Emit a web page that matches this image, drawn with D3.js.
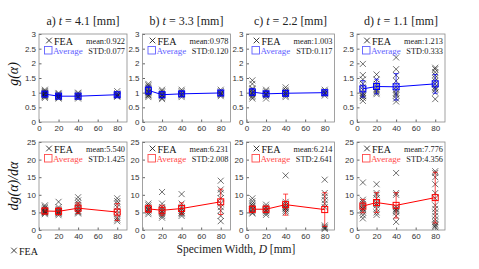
<!DOCTYPE html>
<html>
<head>
<meta charset="utf-8">
<script src="https://cdn.jsdelivr.net/npm/d3@7"></script>
<style>
  body { margin: 0; background: #fff; }
  svg { display: block; font-family: 'Liberation Serif', serif; }
  .tick text { fill: #333; font-size: 8px; }
  .tick line { stroke: #666; }
</style>
</head>
<body>
<div id="chart"></div>
<script>
// specimen widths (x positions of the clusters)
const widths = [6, 20, 40, 80];
const titles = ['a)', 'b)', 'c)', 'd)'];
const thickness = ['4.1', '3.3', '2.2', '1.1'];
const xTicks = [0, 20, 40, 60, 80];
const gTicks = [0, 0.5, 1, 1.5, 2, 2.5, 3];
const dgTicks = [0, 5, 10, 15, 20, 25];

// g(alpha): averages and std bars
const gAvg = [
  [0.95, 0.88, 0.88, 0.93],
  [1.08, 0.93, 0.96, 0.99],
  [1.02, 0.96, 0.98, 1.00],
  [1.13, 1.21, 1.20, 1.30]
];
const gErr = [
  [0.08, 0.06, 0.07, 0.06],
  [0.14, 0.10, 0.08, 0.08],
  [0.12, 0.08, 0.09, 0.06],
  [0.28, 0.25, 0.45, 0.32]
];
const gMeanText = ['0.922', '0.978', '1.003', '1.213'];
const gStdText = ['0.077', '0.120', '0.117', '0.333'];

// g(alpha): FEA samples per width
const gFeaA = [
  [0.82, 0.86, 0.9, 0.93, 0.95, 0.97, 1.0, 1.03, 1.06, 1.1, 0.88, 0.98],
  [0.8, 0.83, 0.86, 0.88, 0.9, 0.93, 0.96, 0.99, 0.85],
  [0.8, 0.84, 0.87, 0.9, 0.93, 0.97, 1.0, 0.86],
  [0.86, 0.9, 0.92, 0.95, 0.98, 1.05, 0.88]
];
const gFeaB = [
  [0.85, 0.9, 0.95, 1.0, 1.05, 1.1, 1.15, 1.2, 1.25, 1.3, 0.92, 1.02],
  [0.78, 0.82, 0.87, 0.9, 0.95, 1.0, 1.05, 1.1, 0.92],
  [0.85, 0.9, 0.95, 1.0, 1.05, 1.1, 0.93],
  [0.88, 0.92, 0.97, 1.0, 1.05, 1.1, 0.95]
];
const gFeaC = [
  [0.8, 0.85, 0.9, 0.95, 1.0, 1.05, 1.1, 1.15, 1.3, 1.42, 0.98],
  [0.8, 0.88, 0.92, 0.96, 1.0, 1.05, 1.1, 0.95],
  [0.85, 0.9, 0.95, 1.0, 1.05, 1.1, 1.18, 0.97],
  [0.9, 0.95, 1.0, 1.05, 1.1, 0.98]
];
const gFeaD = [
  [0.72, 0.82, 0.88, 0.95, 1.0, 1.1, 1.2, 1.3, 1.45, 1.6, 1.98, 0.9],
  [0.95, 1.0, 1.1, 1.2, 1.3, 1.45, 1.62, 1.05],
  [0.7, 0.8, 0.9, 1.0, 1.1, 1.2, 1.4, 1.6, 1.8, 2.2, 0.95],
  [0.78, 1.0, 1.1, 1.2, 1.3, 1.4, 1.5, 1.6, 1.7, 1.8, 1.85, 1.15]
];

// dg/dalpha: averages and std bars
const dgAvg = [
  [5.4, 5.3, 6.2, 5.1],
  [6.0, 5.6, 6.1, 8.0],
  [5.9, 5.9, 7.2, 5.8],
  [6.8, 7.8, 7.0, 9.2]
];
const dgErr = [
  [0.8, 1.0, 1.5, 2.4],
  [1.0, 1.4, 1.6, 3.6],
  [0.9, 0.9, 3.0, 4.8],
  [1.9, 2.8, 3.6, 7.2]
];
const dgMeanText = ['5.540', '6.231', '6.214', '7.776'];
const dgStdText = ['1.425', '2.008', '2.641', '4.356'];

const dgFeaA = [
  [4.5, 4.8, 5.0, 5.3, 5.5, 5.8, 6.2, 6.6, 7.0, 5.1],
  [4.2, 4.6, 5.0, 5.3, 5.6, 6.0, 6.5, 8.0, 4.8],
  [4.7, 5.0, 5.5, 6.0, 6.5, 7.0, 7.6, 8.4, 9.3, 5.2],
  [2.5, 3.0, 3.5, 4.5, 5.5, 6.5, 7.5, 8.2, 9.0]
];
const dgFeaB = [
  [4.5, 5.0, 5.5, 6.0, 6.5, 7.0, 7.5, 5.8],
  [3.5, 4.0, 4.5, 5.0, 5.5, 6.0, 6.5, 7.5, 10.8, 5.2],
  [4.0, 4.5, 5.0, 5.5, 6.0, 6.5, 7.5, 10.2, 4.8],
  [2.5, 4.0, 5.5, 6.5, 7.5, 9.0, 10.5, 11.5, 14.0]
];
const dgFeaC = [
  [4.7, 5.0, 5.4, 5.8, 6.2, 6.6, 7.0, 7.5, 8.2, 9.0],
  [4.3, 4.8, 5.3, 5.8, 6.2, 6.6, 7.2, 5.5],
  [5.0, 5.5, 6.0, 6.5, 7.0, 7.5, 8.0, 15.5, 6.2],
  [0.3, 0.6, 0.9, 1.3, 6.5, 7.5, 8.5, 9.5, 10.5, 14.3]
];
const dgFeaD = [
  [3.3, 4.2, 5.0, 5.6, 6.2, 6.8, 7.4, 8.0, 8.6, 13.5, 6.0],
  [4.3, 5.0, 6.0, 7.0, 8.0, 9.0, 10.0, 10.5, 13.0, 7.5],
  [2.3, 4.0, 5.0, 5.5, 6.0, 6.5, 10.0, 10.5, 16.2, 5.8],
  [0.8, 1.2, 1.6, 2.2, 3.0, 4.0, 5.0, 6.0, 7.0, 9.0, 10.5, 13.0, 15.0, 16.2, 16.7]
];

const gFea = [gFeaA, gFeaB, gFeaC, gFeaD];
const dgFea = [dgFeaA, dgFeaB, dgFeaC, dgFeaD];

const W = 479, H = 269;
const panelLeft = [39, 142.5, 246.5, 357];
const panelW = 88;
const rowTop = [34, 142];
const panelH = 88;

const svg = d3.select('#chart').append('svg')
  .attr('width', W)
  .attr('height', H);

function cross(g, x, y, s, color, width) {
  g.append('path')
    .attr('d', `M${x - s},${y - s}L${x + s},${y + s}M${x - s},${y + s}L${x + s},${y - s}`)
    .attr('stroke', color)
    .attr('stroke-width', width)
    .attr('fill', 'none');
}

function drawPanel(col, row) {
  const left = panelLeft[col], top = rowTop[row];
  const isG = row === 0;
  const color = isG ? '#0000ff' : '#ff0000';
  const legendColor = isG ? '#6060ff' : '#ff4a4a';
  const avg = isG ? gAvg[col] : dgAvg[col];
  const err = isG ? gErr[col] : dgErr[col];
  const fea = isG ? gFea[col] : dgFea[col];

  const x = d3.scaleLinear().domain([0, 90]).range([left, left + panelW]);
  const y = d3.scaleLinear().domain(isG ? [0, 3] : [0, 25]).range([top + panelH, top]);

  const g = svg.append('g');

  // axes
  g.append('g')
    .attr('transform', `translate(0,${top + panelH})`)
    .call(d3.axisBottom(x).tickValues(xTicks).tickSize(-2.5).tickPadding(3).tickSizeOuter(0))
    .call(a => a.select('.domain').remove());
  g.append('g')
    .attr('transform', `translate(${left},0)`)
    .call(d3.axisLeft(y).tickValues(isG ? gTicks : dgTicks).tickFormat(d3.format('')).tickSize(-2.5).tickPadding(3).tickSizeOuter(0))
    .call(a => a.select('.domain').remove());

  g.append('rect')
    .attr('x', left).attr('y', top)
    .attr('width', panelW).attr('height', panelH)
    .attr('fill', 'none')
    .attr('stroke', '#8a8a8a')
    .attr('stroke-width', 0.8);

  // FEA crosses
  fea.forEach((vals, i) => {
    vals.forEach(v => cross(g, x(widths[i]), y(v), 3, 'rgba(0,0,0,0.7)', 0.8));
  });

  // error bars
  widths.forEach((w, i) => {
    const cx = x(w);
    const y0 = y(avg[i] - err[i]), y1 = y(avg[i] + err[i]);
    g.append('path')
      .attr('d', `M${cx},${y0}L${cx},${y1}M${cx - 2.5},${y0}L${cx + 2.5},${y0}M${cx - 2.5},${y1}L${cx + 2.5},${y1}`)
      .attr('stroke', color)
      .attr('stroke-opacity', 0.7)
      .attr('stroke-width', 1)
      .attr('fill', 'none');
  });

  // average line
  const line = d3.line()
    .x((d, i) => x(widths[i]))
    .y(d => y(d));
  g.append('path')
    .datum(avg)
    .attr('d', line)
    .attr('fill', 'none')
    .attr('stroke', color)
    .attr('stroke-width', 1);

  g.selectAll('rect.avg')
    .data(avg)
    .join('rect')
    .attr('class', 'avg')
    .attr('x', (d, i) => x(widths[i]) - 3)
    .attr('y', d => y(d) - 3)
    .attr('width', 6)
    .attr('height', 6)
    .attr('fill', 'none')
    .attr('stroke', color)
    .attr('stroke-width', 1);

  // legend
  cross(g, left + 10, top + 6.5, 2.8, '#111', 0.8);
  g.append('text')
    .attr('x', left + 15).attr('y', top + 10.5)
    .attr('font-size', 10).attr('fill', '#111')
    .text('FEA');
  g.append('rect')
    .attr('x', left + 5.5).attr('y', top + 12.5)
    .attr('width', 7.5).attr('height', 7.5)
    .attr('fill', 'none')
    .attr('stroke', legendColor)
    .attr('stroke-width', 0.9);
  g.append('text')
    .attr('x', left + 14).attr('y', top + 19.5)
    .attr('font-size', 9).attr('fill', legendColor)
    .text('Average');
  g.append('text')
    .attr('x', left + panelW - 2).attr('y', top + 9.5)
    .attr('text-anchor', 'end')
    .attr('font-size', 8.3).attr('fill', '#222')
    .text('mean:' + (isG ? gMeanText[col] : dgMeanText[col]));
  g.append('text')
    .attr('x', left + panelW - 2).attr('y', top + 19.5)
    .attr('text-anchor', 'end')
    .attr('font-size', 8.3).attr('fill', '#222')
    .text('STD:' + (isG ? gStdText[col] : dgStdText[col]));

  // column title
  if (isG) {
    const t = g.append('text')
      .attr('x', left + panelW / 2).attr('y', 25)
      .attr('text-anchor', 'middle')
      .attr('font-size', 12).attr('fill', '#222');
    t.append('tspan').text(titles[col] + ' ');
    t.append('tspan').attr('font-style', 'italic').text('t');
    t.append('tspan').text(' = ' + thickness[col] + ' [mm]');
  }
}

for (let r = 0; r < 2; r++) {
  for (let c = 0; c < 4; c++) drawPanel(c, r);
}

// y labels
svg.append('text')
  .attr('transform', `translate(18,${rowTop[0] + panelH / 2 - 4}) rotate(-90)`)
  .attr('text-anchor', 'middle')
  .attr('font-size', 14).attr('font-style', 'italic').attr('fill', '#111')
  .text('g(α)');
svg.append('text')
  .attr('transform', `translate(18,${rowTop[1] + panelH / 2}) rotate(-90)`)
  .attr('text-anchor', 'middle')
  .attr('font-size', 14).attr('font-style', 'italic').attr('fill', '#111')
  .text('dg(α)/dα');

// x label
const xl = svg.append('text')
  .attr('x', 236).attr('y', 253)
  .attr('text-anchor', 'middle')
  .attr('font-size', 11.5).attr('fill', '#222');
xl.append('tspan').text('Specimen Width, ');
xl.append('tspan').attr('font-style', 'italic').text('D');
xl.append('tspan').text(' [mm]');

// stray legend entry bottom-left
cross(svg, 14, 250.5, 2.8, '#111', 0.8);
svg.append('text')
  .attr('x', 19).attr('y', 254.5)
  .attr('font-size', 10).attr('fill', '#111')
  .text('FEA');
</script>
</body>
</html>
